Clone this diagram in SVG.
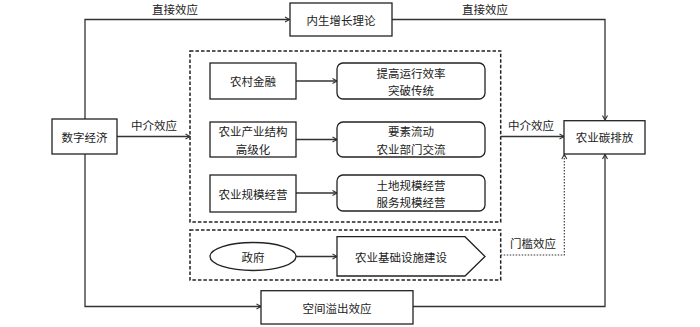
<svg xmlns="http://www.w3.org/2000/svg" width="700" height="327" viewBox="0 0 700 327">
<style>
.box{fill:#fff;stroke:#222;stroke-width:1.3}
.dash{fill:none;stroke:#222;stroke-width:1.5;stroke-dasharray:3.5,2}
.ln{fill:none;stroke:#333;stroke-width:1.3}
.dot{fill:none;stroke:#333;stroke-width:1.1;stroke-dasharray:1.5,1.5}
text{font-family:"Noto Sans CJK SC","Liberation Sans",sans-serif;font-size:11.5px;fill:#222;text-anchor:middle;dominant-baseline:central}
</style>
<defs>
<marker id="a" markerWidth="8" markerHeight="8" refX="6" refY="4" orient="auto" markerUnits="userSpaceOnUse">
<path d="M1.5,1.5 L6,4 L1.5,6.5" fill="none" stroke="#333" stroke-width="1.1"/>
</marker>
</defs>
<rect width="700" height="327" fill="#fff"/>
<g id="groups">
<rect class="dash" x="190" y="51" width="310.7" height="171"/>
<rect class="dash" x="190" y="230" width="310.7" height="50"/>
</g>
<g id="connectors">
<path class="ln" d="M85,119 V19.5 H289.5" marker-end="url(#a)"/>
<path class="ln" d="M392,19.5 H605 V120" marker-end="url(#a)"/>
<path class="ln" d="M117,136.5 H190" marker-end="url(#a)"/>
<path class="ln" d="M296,81 H337" marker-end="url(#a)"/>
<path class="ln" d="M296,139.5 H337" marker-end="url(#a)"/>
<path class="ln" d="M296,193 H337" marker-end="url(#a)"/>
<path class="ln" d="M296,256.5 H337" marker-end="url(#a)"/>
<path class="ln" d="M500.7,136.5 H564" marker-end="url(#a)"/>
<path class="dot" d="M500.7,255 H564.3 V154.5" marker-end="url(#a)"/>
<path class="ln" d="M85,154 V306.5 H261" marker-end="url(#a)"/>
<path class="ln" d="M413,306.5 H605 V154.5" marker-end="url(#a)"/>
<text x="175" y="9">直接效应</text>
<text x="485" y="9">直接效应</text>
<text x="154" y="125">中介效应</text>
<text x="531" y="125">中介效应</text>
<text x="533" y="243">门槛效应</text>
</g>
<g id="n-theory"><rect class="box" x="290" y="3" width="102" height="33"/><text x="341" y="19.5">内生增长理论</text></g>
<g id="n-digital"><rect class="box" x="52" y="119" width="65" height="35"/><text x="84.5" y="136.5">数字经济</text></g>
<g id="n-carbon"><rect class="box" x="564" y="120.7" width="81" height="33.3"/><text x="604.5" y="137.3">农业碳排放</text></g>
<g id="n-finance"><rect class="box" x="210" y="63" width="86" height="36"/><text x="253" y="81">农村金融</text></g>
<g id="n-fin-eff"><rect class="box" x="337" y="63" width="148" height="36" rx="6"/><text x="411" y="73">提高运行效率</text><text x="411" y="90">突破传统</text></g>
<g id="n-struct"><rect class="box" x="210" y="122" width="86" height="35"/><text x="253" y="131">农业产业结构</text><text x="253" y="148.5">高级化</text></g>
<g id="n-struct-eff"><rect class="box" x="337" y="122" width="148" height="35" rx="6"/><text x="411" y="131">要素流动</text><text x="411" y="148.5">农业部门交流</text></g>
<g id="n-scale"><rect class="box" x="210" y="175" width="86" height="37"/><text x="253" y="193.5">农业规模经营</text></g>
<g id="n-scale-eff"><rect class="box" x="337" y="175" width="148" height="36" rx="6"/><text x="411" y="184.5">土地规模经营</text><text x="411" y="202">服务规模经营</text></g>
<g id="n-gov"><ellipse class="box" cx="253" cy="256.5" rx="43" ry="14"/><text x="253" y="256.5">政府</text></g>
<g id="n-infra"><polygon class="box" points="337,236.7 465,236.7 485,256.5 465,276 337,276"/><text x="401" y="256.5">农业基础设施建设</text></g>
<g id="n-spill"><rect class="box" x="261" y="290.7" width="152" height="33.3"/><text x="337" y="307.5">空间溢出效应</text></g>
</svg>
